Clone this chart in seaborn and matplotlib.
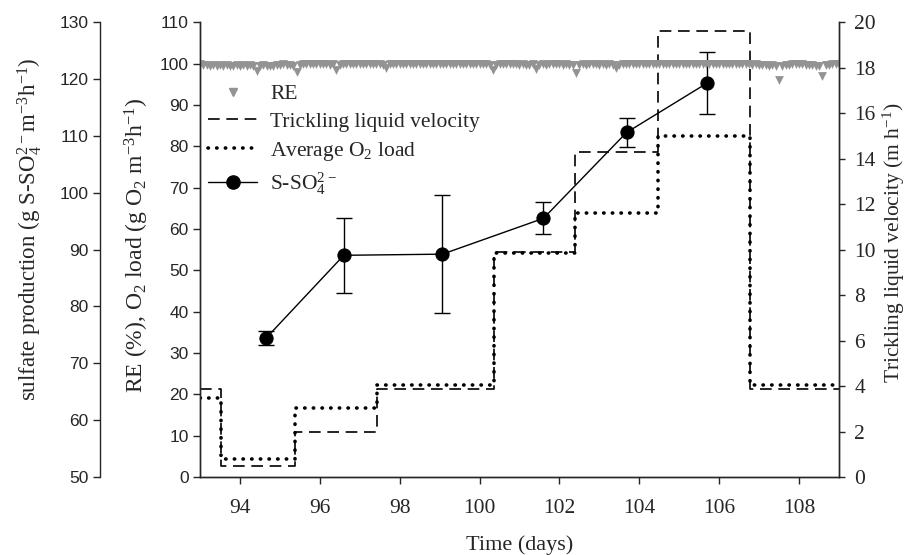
import seaborn as sns
import matplotlib.pyplot as plt
from matplotlib.lines import Line2D

# step changes of operating conditions (day at which each period starts, last = end)
step_days = [93.0, 93.53, 95.38, 97.43, 100.37, 102.4, 104.47, 106.78, 109.0]
velocity = [3.85, 0.5, 2.0, 3.85, 9.9, 14.3, 19.6, 3.85, 3.85]        # m h-1
o2_load = [19.0, 4.3, 16.7, 22.2, 54.3, 63.8, 82.4, 22.2, 22.2]       # g O2 m-3 h-1

# sulfate production
so4_days = [94.65, 96.6, 99.07, 101.6, 103.68, 105.7]
so4_prod = [74.4, 89.0, 89.2, 95.5, 110.6, 119.3]
so4_err = [1.2, 6.6, 10.4, 2.8, 2.5, 5.4]

# removal efficiency (%), sampled every 2 h, one row per day
re_days = [
    93.0, 93.083, 93.167, 93.25, 93.333, 93.417, 93.5, 93.583, 93.667, 93.75, 93.833, 93.917,
    94.0, 94.083, 94.167, 94.25, 94.333, 94.417, 94.5, 94.583, 94.667, 94.75, 94.833, 94.917,
    95.0, 95.083, 95.167, 95.25, 95.333, 95.417, 95.5, 95.583, 95.667, 95.75, 95.833, 95.917,
    96.0, 96.083, 96.167, 96.25, 96.333, 96.417, 96.5, 96.583, 96.667, 96.75, 96.833, 96.917,
    97.0, 97.083, 97.167, 97.25, 97.333, 97.417, 97.5, 97.583, 97.667, 97.75, 97.833, 97.917,
    98.0, 98.083, 98.167, 98.25, 98.333, 98.417, 98.5, 98.583, 98.667, 98.75, 98.833, 98.917,
    99.0, 99.083, 99.167, 99.25, 99.333, 99.417, 99.5, 99.583, 99.667, 99.75, 99.833, 99.917,
    100.0, 100.083, 100.167, 100.25, 100.333, 100.417, 100.5, 100.583, 100.667, 100.75, 100.833, 100.917,
    101.0, 101.083, 101.167, 101.25, 101.333, 101.417, 101.5, 101.583, 101.667, 101.75, 101.833, 101.917,
    102.0, 102.083, 102.167, 102.25, 102.333, 102.417, 102.5, 102.583, 102.667, 102.75, 102.833, 102.917,
    103.0, 103.083, 103.167, 103.25, 103.333, 103.417, 103.5, 103.583, 103.667, 103.75, 103.833, 103.917,
    104.0, 104.083, 104.167, 104.25, 104.333, 104.417, 104.5, 104.583, 104.667, 104.75, 104.833, 104.917,
    105.0, 105.083, 105.167, 105.25, 105.333, 105.417, 105.5, 105.583, 105.667, 105.75, 105.833, 105.917,
    106.0, 106.083, 106.167, 106.25, 106.333, 106.417, 106.5, 106.583, 106.667, 106.75, 106.833, 106.917,
    107.0, 107.083, 107.167, 107.25, 107.333, 107.417, 107.5, 107.583, 107.667, 107.75, 107.833, 107.917,
    108.0, 108.083, 108.167, 108.25, 108.333, 108.417, 108.5, 108.583, 108.667, 108.75, 108.833, 108.917,
    109.0,
]
re_vals = [
    99.8, 99.6, 99.7, 99.4, 99.6, 99.5, 99.7, 99.4, 99.6, 99.5, 99.3, 99.6,
    99.5, 99.7, 99.4, 99.6, 99.3, 98.2, 99.4, 99.6, 99.3, 99.5, 99.4, 99.6,
    99.7, 99.8, 99.6, 99.7, 99.5, 97.9, 99.6, 99.8, 99.9, 99.8, 99.9, 99.8,
    99.9, 99.8, 99.9, 99.7, 99.8, 98.4, 99.7, 99.9, 99.9, 99.8, 99.9, 99.9,
    99.9, 99.9, 99.8, 99.9, 99.9, 99.8, 99.9, 99.7, 98.9, 99.8, 99.9, 99.9,
    99.9, 99.9, 99.9, 99.8, 99.9, 99.9, 99.9, 99.9, 99.8, 99.9, 99.9, 99.9,
    99.9, 99.9, 99.9, 99.9, 99.8, 99.9, 99.9, 99.9, 99.9, 99.9, 99.8, 99.9,
    99.9, 99.8, 99.9, 99.7, 98.4, 99.7, 99.8, 99.9, 99.9, 99.8, 99.9, 99.8,
    99.7, 99.8, 99.6, 99.7, 99.8, 98.6, 99.6, 99.8, 99.7, 99.9, 99.8, 99.9,
    99.8, 99.7, 99.8, 99.6, 99.7, 97.7, 99.6, 99.8, 99.7, 99.8, 99.9, 99.8,
    99.7, 99.8, 99.7, 99.8, 99.7, 98.9, 99.7, 99.8, 99.9, 99.9, 99.8, 99.9,
    99.9, 99.9, 99.8, 99.9, 99.9, 99.9, 99.9, 99.8, 99.9, 99.9, 99.9, 99.9,
    99.9, 99.9, 99.9, 99.8, 99.9, 99.9, 99.9, 99.9, 99.8, 99.9, 99.9, 99.9,
    99.9, 99.9, 99.9, 99.9, 99.8, 99.9, 99.9, 99.9, 99.9, 99.8, 99.7, 99.8,
    99.7, 99.6, 99.7, 99.5, 99.6, 99.3, 96.0, 99.4, 99.6, 99.7, 99.8, 99.9,
    99.9, 99.8, 99.7, 99.6, 99.7, 99.3, 99.5, 97.0, 99.6, 99.7, 99.8, 99.9,
    99.9,
]

sns.set_style('ticks')
plt.rcParams['font.family'] = ['Liberation Serif', 'DejaVu Serif']
plt.rcParams['mathtext.fontset'] = 'custom'
plt.rcParams['mathtext.rm'] = 'Liberation Serif'
plt.rcParams['mathtext.default'] = 'rm'
plt.rcParams['xtick.direction'] = 'out'
plt.rcParams['ytick.direction'] = 'out'

grey = '#939393'
dots = (0, (0.1, 2.3))
dashes = (0, (7, 4))

fig, ax = plt.subplots(figsize=(9.09, 5.55), dpi=100)
fig.subplots_adjust(left=0.22, right=0.923, bottom=0.1405, top=0.96)
ax_r = ax.twinx()
ax_s = ax.twinx()

# RE + O2 load on the main axis (kept above the velocity axis)
ax.set_zorder(ax_r.get_zorder() + 1)
ax.patch.set_visible(False)

sns.scatterplot(x=re_days, y=re_vals, ax=ax, marker='v', s=40, color=grey,
                edgecolor=grey, linewidth=0, legend=False)
sns.lineplot(x=step_days, y=o2_load, ax=ax, drawstyle='steps-post', color='black',
             linestyle=dots, linewidth=2.6, dash_capstyle='round')
sns.lineplot(x=step_days, y=velocity, ax=ax_r, drawstyle='steps-post', color='black',
             linestyle=dashes, linewidth=1.2)

# sulfate production on its own offset axis
ax_s.errorbar(so4_days, so4_prod, yerr=so4_err, fmt='none', ecolor='black',
              elinewidth=1, capsize=5.5, capthick=1)
sns.lineplot(x=so4_days, y=so4_prod, ax=ax_s, color='black', linewidth=1,
             marker='o', markersize=9.5, markeredgecolor='black')

ax.set_xlim(93, 109)
ax.set_ylim(0, 110)
ax_r.set_ylim(0, 20)
ax_s.set_ylim(50, 130)
ax.set_xticks([94, 96, 98, 100, 102, 104, 106, 108])
ax.set_yticks(range(0, 111, 10))
ax_r.set_yticks(range(0, 21, 2))
ax_s.set_yticks(range(50, 131, 10))

ax_s.spines['left'].set_position(('outward', 72))
ax_s.spines['left'].set_visible(True)
ax_s.yaxis.set_ticks_position('left')
ax_s.yaxis.set_label_position('left')
for a in (ax, ax_r, ax_s):
    a.spines['top'].set_visible(False)
    for sp in a.spines.values():
        sp.set_linewidth(1)
ax_s.spines['right'].set_visible(False)
ax_s.spines['bottom'].set_visible(False)

ax.tick_params(axis='x', length=5, width=1, labelsize=15.5, pad=11)
for a in (ax, ax_s):
    a.tick_params(axis='y', length=5, width=1, labelsize=12.5, pad=3)
for lab in ax.get_yticklabels() + ax_s.get_yticklabels():
    lab.set_family('Liberation Sans')
ax_r.tick_params(axis='y', length=4, width=1, labelsize=15.5, pad=7)

ax.set_xlabel('Time (days)', fontsize=16, labelpad=12)
ax.set_ylabel('RE (%), O$_2$ load (g O$_2$ m$^{-3}$h$^{-1}$)', fontsize=17)
ax.yaxis.set_label_coords(-0.077, 0.51)
ax_r.set_ylabel('Trickling liquid velocity (m h$^{-1}$)', fontsize=15.5)
ax_r.yaxis.set_label_coords(1.066, 0.515)
ax_s.set_ylabel('sulfate production (g S-SO$_4^{2-}$m$^{-3}$h$^{-1}$)', fontsize=16.5)
ax_s.yaxis.set_label_coords(-0.244, 0.545)

handles = [
    Line2D([], [], color=grey, marker='v', linestyle='none', markersize=6),
    Line2D([], [], color='black', linestyle=dashes, linewidth=1.2),
    Line2D([], [], color='black', linestyle=dots, linewidth=2.6, dash_capstyle='round'),
    Line2D([], [], color='black', marker='o', markersize=9.5, linewidth=1),
]
labels = ['RE', 'Trickling liquid velocity', 'Average O$_2$ load', 'S-SO$_4^{2-}$']
ax_s.legend(handles, labels, loc='upper left', bbox_to_anchor=(0.0125, 0.864),
            frameon=False, fontsize=15.5, handlelength=2.3, handletextpad=0.6,
            labelspacing=0.36, borderpad=0, borderaxespad=0)

fig.savefig('out.png', dpi=100)
